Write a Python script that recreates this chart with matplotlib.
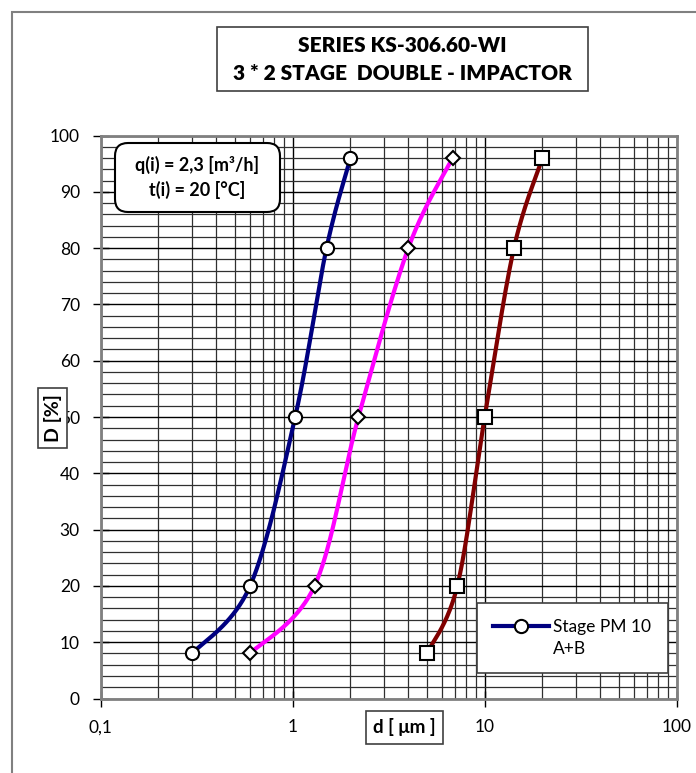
import numpy as np
import matplotlib
matplotlib.use("Agg")
import matplotlib.pyplot as plt
from matplotlib.patches import Rectangle, FancyBboxPatch
from matplotlib.lines import Line2D
from matplotlib.ticker import FixedLocator, NullFormatter

# separation grade D [%] at particle size d [um]
D_levels = [8, 20, 50, 80, 96]
d_stage_1 = [0.3, 0.6, 1.03, 1.5, 2.0]
d_stage_2 = [0.6, 1.3, 2.2, 4.0, 6.8]
d_stage_3 = [5.0, 7.2, 10.0, 14.2, 20.0]

x_ticks = [0.1, 1, 10, 100]
x_tick_labels = ["0,1", "1", "10", "100"]
y_ticks = list(range(0, 101, 10))

legend_label = "Stage PM 10"
legend_label_2 = "A+B"

W, H = 696, 773
plt.rcParams["font.family"] = ["Lato", "DejaVu Sans"]


def px(x, y):
    # pixel from top-left -> inches from bottom-left
    return x / 100.0, (H - y) / 100.0


def smooth(xs, ys, n=40):
    # Excel-like bezier smoothing, done in screen-like units
    u = np.log10(xs) * 192.0
    v = np.asarray(ys, dtype=float) * 5.63
    P = np.column_stack([u, v])
    P = np.vstack([P[0], P, P[-1]])
    out = []
    t = np.linspace(0, 1, n)[:, None]
    for i in range(1, len(P) - 2):
        p0, p1, p2, p3 = P[i - 1], P[i], P[i + 1], P[i + 2]
        c1 = p1 + (p2 - p0) / 6
        c2 = p2 - (p3 - p1) / 6
        seg = (1 - t) ** 3 * p1 + 3 * (1 - t) ** 2 * t * c1 + 3 * (1 - t) * t ** 2 * c2 + t ** 3 * p2
        out.append(seg)
    out = np.vstack(out)
    return 10 ** (out[:, 0] / 192.0), out[:, 1] / 5.63


fig = plt.figure(figsize=(W / 100, H / 100), dpi=100)
ax = fig.add_axes([100.7 / W, 1 - 698.5 / H, 576 / W, 563 / H])

ax.set_xscale("log")
ax.set_xlim(0.1, 100)
ax.set_ylim(0, 100)

ax.set_xticks(x_ticks, x_tick_labels)
minor_x = [k * 10.0 ** e for e in (-1, 0, 1) for k in range(2, 10)]
ax.xaxis.set_minor_locator(FixedLocator(minor_x))
ax.xaxis.set_minor_formatter(NullFormatter())
ax.set_yticks(y_ticks)
ax.yaxis.set_minor_locator(FixedLocator([v for v in range(2, 100, 2) if v % 10]))

ax.grid(which="major", color="black", lw=1.0)
ax.grid(which="minor", color="#303030", lw=0.9)
ax.set_axisbelow(True)
ax.tick_params(which="major", direction="inout", length=12, width=1.0,
               labelsize=12.5, pad=9, color="black")
ax.tick_params(which="minor", length=0)
for s in ax.spines.values():
    s.set_color("#808080")
    s.set_linewidth(2)

series = [
    (d_stage_1, "#000080", "o", 9.5),
    (d_stage_2, "#ff00ff", "D", 7.2),
    (d_stage_3, "#800000", "s", 9.5),
]
for xs, col, mk, ms in series:
    sx, sy = smooth(xs, D_levels)
    ax.plot(sx, sy, color=col, lw=3.0, solid_capstyle="butt", zorder=3)
    ax.plot(xs, D_levels, ls="none", marker=mk, ms=ms, mfc="white",
            mec="black", mew=1.5, zorder=4)

handles = [
    Line2D([], [], color="#000080", lw=3.0, marker="o", ms=9.5, mfc="white",
           mec="black", mew=1.5),
    Line2D([], [], color="none"),
]
leg = ax.legend(handles, [legend_label, legend_label_2], loc="upper left",
                bbox_to_anchor=(477 / W, 1 - 603 / H), bbox_transform=fig.transFigure,
                borderaxespad=0, fancybox=False, framealpha=1, edgecolor="#404040",
                fontsize=12.5, handlelength=3.2, handletextpad=0.25, borderpad=0.95,
                labelspacing=0.3)
leg.get_frame().set_linewidth(1.2)

# outer frame
fig.patches.append(Rectangle(px(12, 800), 7.2, 7.88, transform=fig.dpi_scale_trans,
                             fill=False, ec="#808080", lw=1.5))

# title box
fig.patches.append(Rectangle(px(217, 91), 3.71, 0.64, transform=fig.dpi_scale_trans,
                             fill=False, ec="#404040", lw=1.2))
fig.text(402.5 / W, 1 - 45 / H, "SERIES KS-306.60-WI", ha="center", va="center",
         fontsize=15, fontweight="heavy")
fig.text(402.5 / W, 1 - 73 / H, "3 * 2 STAGE  DOUBLE - IMPACTOR", ha="center",
         va="center", fontsize=15, fontweight="heavy")

# conditions box
fig.patches.append(FancyBboxPatch(px(115, 212), 1.65, 0.69, transform=fig.dpi_scale_trans,
                                  boxstyle="round,pad=0,rounding_size=0.13",
                                  fc="white", ec="black", lw=1.5, zorder=2))
fig.text(197.5 / W, 1 - 165 / H, "q(i) = 2,3 [m\u00b3/h]", ha="center", va="center",
         fontsize=13, fontweight="bold", zorder=3)
fig.text(197.5 / W, 1 - 190 / H, "t(i) = 20 [\u00b0C]", ha="center", va="center",
         fontsize=13, fontweight="bold", zorder=3)

# axis labels in boxes
fig.text(52.5 / W, 1 - 418 / H, "D [%]", rotation=90, ha="center", va="center",
         fontsize=14, fontweight="bold",
         bbox=dict(boxstyle="square,pad=0.3", fc="white", ec="#404040", lw=1.2))
fig.text(404.5 / W, 1 - 727 / H, "d [ \u03bcm ]", ha="center", va="center",
         fontsize=13.5, fontweight="bold",
         bbox=dict(boxstyle="square,pad=0.4", fc="white", ec="#404040", lw=1.2))

fig.savefig("out.png", dpi=100)
